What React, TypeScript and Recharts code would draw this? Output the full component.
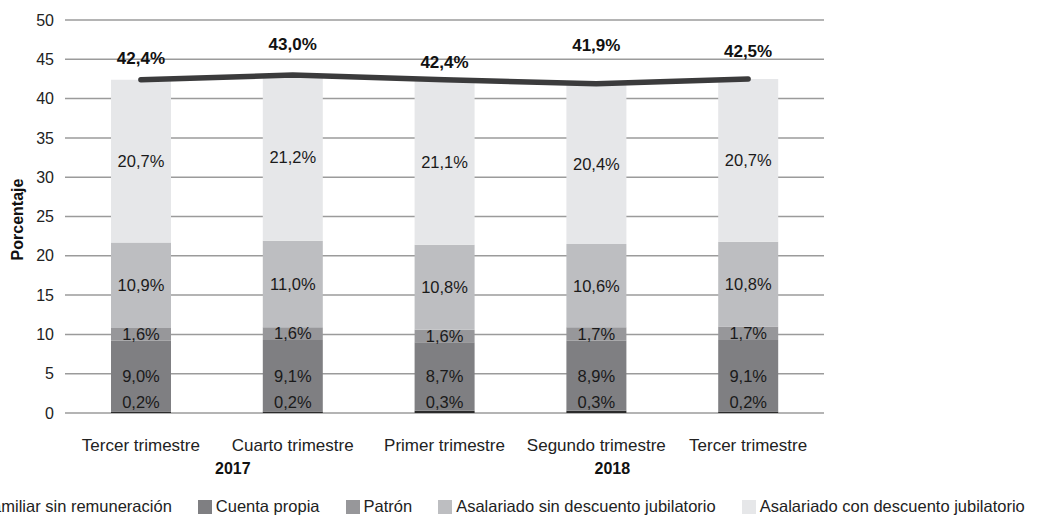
import React from 'react';
import { ComposedChart, Bar, Line, XAxis, YAxis, CartesianGrid, LabelList, Legend } from 'recharts';

const categories = ['Tercer trimestre', 'Cuarto trimestre', 'Primer trimestre', 'Segundo trimestre', 'Tercer trimestre'];
const familiar = [0.2, 0.2, 0.3, 0.3, 0.2];
const cuentaPropia = [9.0, 9.1, 8.7, 8.9, 9.1];
const patron = [1.6, 1.6, 1.6, 1.7, 1.7];
const asalariadoSin = [10.9, 11.0, 10.8, 10.6, 10.8];
const asalariadoCon = [20.7, 21.2, 21.1, 20.4, 20.7];
const total = [42.4, 43.0, 42.4, 41.9, 42.5];
const yearGroups = [
  { label: '2017', first: 0, last: 1 },
  { label: '2018', first: 2, last: 4 },
];
const yTicks = [0, 5, 10, 15, 20, 25, 30, 35, 40, 45, 50];

const data = categories.map((cat, i) => ({
  cat,
  familiar: familiar[i],
  cuentaPropia: cuentaPropia[i],
  patron: patron[i],
  asalariadoSin: asalariadoSin[i],
  asalariadoCon: asalariadoCon[i],
  total: total[i],
}));

const series = [
  { key: 'familiar', name: 'Familiar sin remuneración', color: '#2b2b2b' },
  { key: 'cuentaPropia', name: 'Cuenta propia', color: '#7f7f82' },
  { key: 'patron', name: 'Patrón', color: '#97979a' },
  { key: 'asalariadoSin', name: 'Asalariado sin descuento jubilatorio', color: '#bdbec1' },
  { key: 'asalariadoCon', name: 'Asalariado con descuento jubilatorio', color: '#e6e7e9' },
];

const W = 1040;
const H = 520;
const margin = { top: 20, right: 216, left: 35, bottom: 55 };
const Y_AXIS_W = 30;
const band = (W - margin.left - margin.right - Y_AXIS_W) / categories.length;

const FONT = '"Liberation Sans", Arial, Helvetica, sans-serif';
const pct = (v: any) => `${Number(v).toFixed(1).replace('.', ',')}%`;

// hand-placed total labels in the original, lift above each point (px)
const totalLabelLift = [16, 25, 12, 33, 22];

const TotalLabel = (props: any) => {
  const { x, y, value, index } = props;
  return (
    <text x={x} y={y - totalLabelLift[index]} textAnchor="middle" fontFamily={FONT} fontSize={17} fontWeight="bold" fill="#111">
      {pct(value)}
    </text>
  );
};

// year under the middle of its group of quarters
const YearTick = (props: any) => {
  const { x, y, payload } = props;
  const g = yearGroups.find((yg) => yg.first === payload.index);
  if (!g) return null;
  const cx = x + ((g.last - g.first) / 2) * band + 16;
  return (
    <text x={cx} y={y} dy="0.71em" textAnchor="middle" fontFamily={FONT} fontSize={16} fontWeight="bold" fill="#111">
      {g.label}
    </text>
  );
};

const YTitle = (props: any) => {
  const vb = props.viewBox;
  const cx = vb.x - 18;
  const cy = vb.y + vb.height / 2 + 3;
  return (
    <text x={cx} y={cy} transform={`rotate(-90 ${cx} ${cy})`} textAnchor="middle" dominantBaseline="central"
      fontFamily={FONT} fontSize={16} fontWeight="bold" fill="#111">
      Porcentaje
    </text>
  );
};

const LegendBox = () => (
  <div style={{ display: 'flex', whiteSpace: 'nowrap', fontFamily: FONT, fontSize: 16.5, color: '#222', lineHeight: '19px' }}>
    {series.map((s) => (
      <div key={s.key} style={{ display: 'flex', alignItems: 'center', marginRight: 26 }}>
        <span style={{ width: 14, height: 14, background: s.color, marginRight: 4, display: 'inline-block' }} />
        <span>{s.name}</span>
      </div>
    ))}
  </div>
);

export default function App() {
  return (
    <div style={{ position: 'absolute', left: 0, top: 0, width: W, height: H, overflow: 'hidden', background: '#fff' }}>
      <ComposedChart width={W} height={H} data={data} margin={margin}>
        <CartesianGrid vertical={false} stroke="#9b9b9b" strokeWidth={1.5} />
        <XAxis dataKey="cat" axisLine={false} tickLine={false} tickSize={0} tickMargin={26} height={26} interval={0}
          tick={{ fontFamily: FONT, fontSize: 17, fill: '#222' }} />
        <XAxis xAxisId="year" dataKey="cat" axisLine={false} tickLine={false} tickSize={0} tickMargin={24} height={26}
          interval={0} tick={<YearTick />} />
        <YAxis domain={[0, 50]} ticks={yTicks} axisLine={false} tickLine={false} tickSize={0} tickMargin={11} width={Y_AXIS_W}
          tick={{ fontFamily: FONT, fontSize: 16, fill: '#222' }} label={{ content: YTitle }} />
        <Legend layout="horizontal" verticalAlign="middle" content={<LegendBox />}
          wrapperStyle={{ left: -36, top: 497, width: 1100 }} />
        {series.map((s, i) => (
          <Bar key={s.key} dataKey={s.key} name={s.name} stackId="a" fill={s.color} barSize={60} isAnimationActive={false}>
            <LabelList dataKey={s.key} position={i === 0 ? 'insideBottom' : 'center'} offset={5} formatter={pct}
              style={{ fontFamily: FONT, fontSize: 16.5, fill: '#1a1a1a' }} />
          </Bar>
        ))}
        <Line dataKey="total" name="Total" type="linear" stroke="#3b3b3c" strokeWidth={5.5} strokeLinecap="round"
          strokeLinejoin="round" dot={false} legendType="none" isAnimationActive={false}>
          <LabelList dataKey="total" content={TotalLabel} />
        </Line>
      </ComposedChart>
    </div>
  );
}
